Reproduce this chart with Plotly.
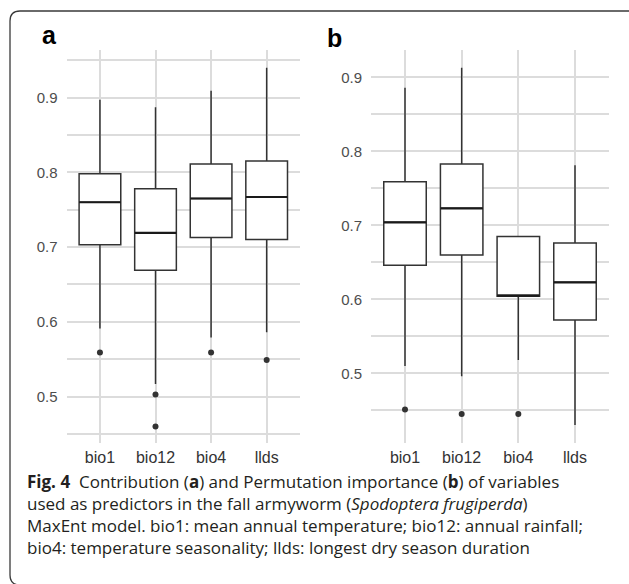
import plotly.graph_objects as go

W, H = 629, 584

# variables (x categories)
variables = ["bio1", "bio12", "bio4", "llds"]

# panel a: contribution
a_q1 = [0.703, 0.669, 0.713, 0.710]
a_median = [0.760, 0.719, 0.765, 0.767]
a_q3 = [0.798, 0.778, 0.811, 0.815]
a_lower = [0.591, 0.517, 0.579, 0.586]
a_upper = [0.897, 0.887, 0.909, 0.940]
a_out_x = ["bio1", "bio12", "bio12", "bio4", "llds"]
a_out_y = [0.559, 0.503, 0.460, 0.559, 0.549]

# panel b: permutation importance
b_q1 = [0.646, 0.660, 0.604, 0.572]
b_median = [0.704, 0.723, 0.605, 0.623]
b_q3 = [0.759, 0.783, 0.685, 0.676]
b_lower = [0.510, 0.496, 0.518, 0.430]
b_upper = [0.886, 0.913, 0.685, 0.781]
b_out_x = ["bio1", "bio12", "bio4"]
b_out_y = [0.451, 0.445, 0.445]

a_ticks = [0.5, 0.6, 0.7, 0.8, 0.9]
b_ticks = [0.5, 0.6, 0.7, 0.8, 0.9]

caption_lines = [
    "<b>Fig. 4</b>  Contribution (<b>a</b>) and Permutation importance (<b>b</b>) of variables",
    "used as predictors in the fall armyworm (<i>Spodoptera frugiperda</i>)",
    "MaxEnt model. bio1: mean annual temperature; bio12: annual rainfall;",
    "bio4: temperature seasonality; llds: longest dry season duration",
]

LINE = "#333333"
GRID = "#dcdcdc"
TICK_FONT = dict(family="Liberation Sans, Arial, sans-serif", size=15, color="#4d4d4d")


def px_x(x):
    return x / W


def px_y(y):
    return 1 - y / H


fig = go.Figure()


def add_panel(xa, ya, q1, med, q3, lo, hi, ox, oy, box_px):
    fig.add_trace(go.Box(
        x=variables, q1=q1, median=med, q3=q3, lowerfence=lo, upperfence=hi,
        xaxis=xa, yaxis=ya, width=0.75, whiskerwidth=0,
        fillcolor="white", line=dict(color=LINE, width=1.5),
        boxpoints=False, showlegend=False, hoverinfo="skip",
    ))
    # heavier median bar, like ggplot's fatten (line-ew spans 1.4 x size)
    fig.add_trace(go.Scatter(
        x=variables, y=med, xaxis=xa, yaxis=ya, mode="markers",
        marker=dict(symbol="line-ew", size=box_px / 1.4, line=dict(color="#1a1a1a", width=2.2)),
        showlegend=False, hoverinfo="skip",
    ))
    fig.add_trace(go.Scatter(
        x=ox, y=oy, xaxis=xa, yaxis=ya, mode="markers",
        marker=dict(color=LINE, size=6), showlegend=False, hoverinfo="skip",
    ))


add_panel("x", "y", a_q1, a_median, a_q3, a_lower, a_upper, a_out_x, a_out_y, 41.5)
add_panel("x2", "y2", b_q1, b_median, b_q3, b_lower, b_upper, b_out_x, b_out_y, 42.3)

xaxis_common = dict(
    type="category", categoryorder="array", categoryarray=variables,
    range=[-0.6, 3.6], showgrid=True, gridcolor=GRID, gridwidth=1.5,
    zeroline=False, showline=False, ticks="",
    tickfont=dict(TICK_FONT, color="#333333", size=16),
    ticklabelstandoff=3,
)
yaxis_common = dict(
    showgrid=True, gridcolor=GRID, gridwidth=1.5, zeroline=False, showline=False,
    ticks="", tickfont=TICK_FONT, ticklabelstandoff=8,
    minor=dict(dtick=0.1, tick0=0.05, showgrid=True, gridcolor=GRID, gridwidth=1.5),
)

fig.update_layout(
    width=W, height=H, margin=dict(l=0, r=0, t=0, b=0),
    paper_bgcolor="white", plot_bgcolor="white",
    xaxis=dict(xaxis_common, domain=[px_x(66.6), px_x(300)], anchor="y"),
    yaxis=dict(yaxis_common, domain=[px_y(443), px_y(50)], range=[0.438, 0.9636],
               tickvals=a_ticks, ticktext=[f"{v:.1f}" for v in a_ticks], anchor="x"),
    xaxis2=dict(xaxis_common, domain=[px_x(371), px_x(609)], anchor="y2"),
    yaxis2=dict(yaxis_common, domain=[px_y(443), px_y(50)], range=[0.4058, 0.9369],
                tickvals=b_ticks, ticktext=[f"{v:.1f}" for v in b_ticks], anchor="x2"),
)

# panel letters
for label, x, y in [("a", 40, 35), ("b", 325, 38)]:
    fig.add_annotation(
        text=f"<b>{label}</b>", x=px_x(x), y=px_y(y), xref="paper", yref="paper",
        xanchor="left", yanchor="middle", showarrow=False,
        font=dict(family="Liberation Sans, Arial, sans-serif", size=25, color="black"),
    )

# caption as a single text block
fig.add_annotation(
    text="<br>".join(caption_lines), x=px_x(25), y=px_y(468), xref="paper", yref="paper",
    xanchor="left", yanchor="top", align="left", showarrow=False,
    font=dict(family="Open Sans, Noto Sans, sans-serif", size=17, color="#231f20"),
)

# rounded frame around the figure (right and bottom edges run off the page)
x0, y0, x1, y1, r = 10, 11, 645, 585, 10
path = (
    f"M {px_x(x0)},{px_y(y1 - r)} L {px_x(x0)},{px_y(y0 + r)} "
    f"Q {px_x(x0)},{px_y(y0)} {px_x(x0 + r)},{px_y(y0)} L {px_x(x1)},{px_y(y0)} "
    f"M {px_x(x0)},{px_y(y1 - r)} Q {px_x(x0)},{px_y(y1)} {px_x(x0 + r)},{px_y(y1)}"
)
fig.add_shape(type="path", path=path, xref="paper", yref="paper",
              line=dict(color="#3a3a3a", width=1.3))

fig.write_html(
    "out.html",
    config={"displayModeBar": False},
    post_script="document.body.style.margin='0';document.body.style.overflow='hidden';",
)
